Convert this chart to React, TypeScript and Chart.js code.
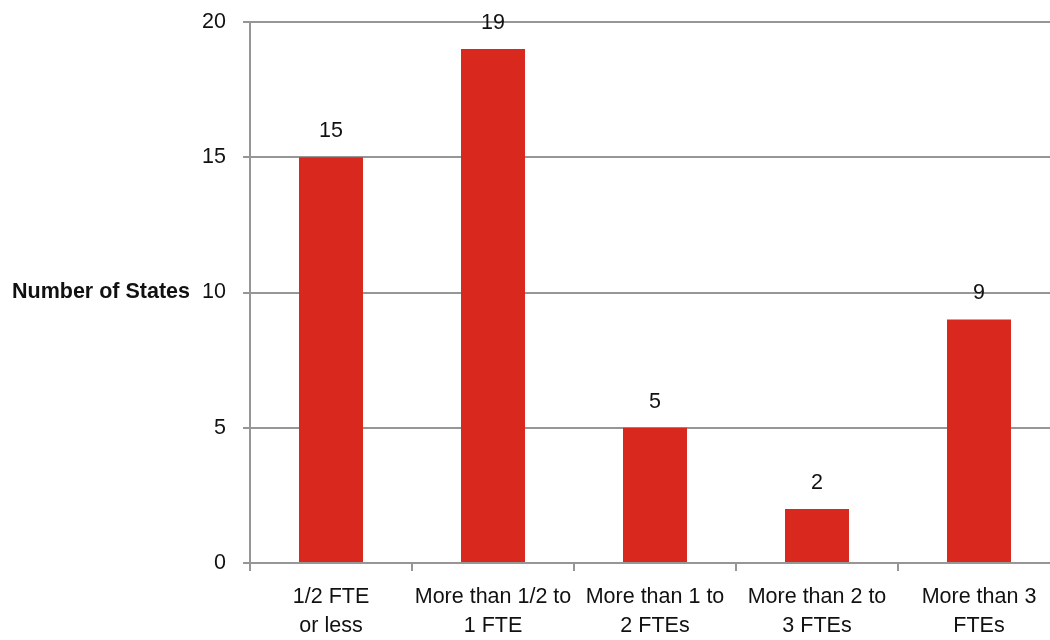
import { useEffect, useRef } from "react";
import { Chart, registerables } from "chart.js";

Chart.register(...registerables);

const categories: string[][] = [
  ["1/2 FTE", "or less"],
  ["More than 1/2 to", "1 FTE"],
  ["More than 1 to", "2 FTEs"],
  ["More than 2 to", "3 FTEs"],
  ["More than 3", "FTEs"],
];
const stateCounts: number[] = [15, 19, 5, 2, 9];
const yTicks: number[] = [0, 5, 10, 15, 20];
const yAxisTitle = "Number of States";

const FONT = "'Liberation Sans', Arial, sans-serif";
const BAR_RED = "#d9291e";
const GRID_GRAY = "#969696";

// Value labels above each bar and the horizontal y-axis title
const annotations = {
  id: "annotations",
  afterDatasetsDraw(chart: any) {
    const ctx = chart.ctx;
    const meta = chart.getDatasetMeta(0);
    ctx.save();
    ctx.fillStyle = "#111";
    ctx.font = `21.5px ${FONT}`;
    ctx.textAlign = "center";
    ctx.textBaseline = "middle";
    meta.data.forEach((bar: any, i: number) => {
      ctx.fillText(String(stateCounts[i]), bar.x, bar.y - 26);
    });
    const area = chart.chartArea;
    ctx.font = `bold 21.5px ${FONT}`;
    ctx.textAlign = "right";
    ctx.fillText(yAxisTitle, 190, (area.top + area.bottom) / 2);
    ctx.restore();
  },
};

export default function App() {
  const canvasRef = useRef<HTMLCanvasElement | null>(null);

  useEffect(() => {
    if (!canvasRef.current) return;
    const chart = new Chart(canvasRef.current, {
      type: "bar",
      data: {
        labels: categories,
        datasets: [
          {
            data: stateCounts,
            backgroundColor: BAR_RED,
            borderWidth: 0,
            categoryPercentage: 1,
            barPercentage: 0.395,
          },
        ],
      },
      options: {
        animation: false,
        responsive: true,
        maintainAspectRatio: false,
        layout: { padding: { left: 0, right: 2, top: 22, bottom: 0 } },
        plugins: {
          legend: { display: false },
          tooltip: { enabled: false },
        },
        scales: {
          x: {
            grid: {
              display: true,
              drawOnChartArea: false,
              drawTicks: true,
              tickLength: 8,
              color: GRID_GRAY,
              lineWidth: 2,
            },
            border: { display: true, color: GRID_GRAY, width: 2 },
            ticks: {
              color: "#111",
              font: { family: FONT, size: 21.5, lineHeight: 1.33 },
              padding: 12,
              maxRotation: 0,
              autoSkip: false,
            },
            afterFit(scale: any) {
              scale.height = 77;
              scale.paddingLeft = 0;
              scale.paddingRight = 0;
            },
          },
          y: {
            min: 0,
            max: 20,
            afterBuildTicks(scale: any) {
              scale.ticks = yTicks.map((v) => ({ value: v }));
            },
            grid: {
              color: GRID_GRAY,
              lineWidth: 2,
              drawTicks: true,
              tickLength: 7,
            },
            border: { display: true, color: GRID_GRAY, width: 2 },
            ticks: {
              color: "#111",
              font: { family: FONT, size: 21.5 },
              padding: 17,
            },
            afterFit(scale: any) {
              scale.width = 250;
              scale.paddingTop = 0;
              scale.paddingBottom = 0;
            },
          },
        },
      },
      plugins: [annotations],
    });
    return () => chart.destroy();
  }, []);

  return (
    <div
      style={{
        position: "fixed",
        left: 0,
        top: 0,
        width: 1050,
        height: 640,
        overflow: "hidden",
        background: "#fff",
      }}
    >
      <div style={{ position: "relative", width: 1062, height: 640 }}>
        <canvas ref={canvasRef} />
      </div>
    </div>
  );
}
